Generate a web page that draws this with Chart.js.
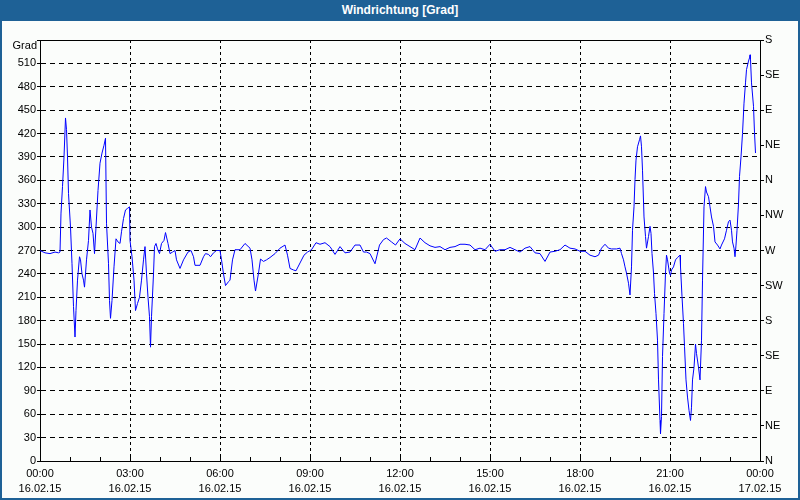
<!DOCTYPE html>
<html>
<head>
<meta charset="utf-8">
<script src="https://cdn.jsdelivr.net/npm/chart.js@4.4.1/dist/chart.umd.min.js"></script>
<style>
  html, body { margin: 0; padding: 0; background: #fbfdfb; }
  #wrap { position: relative; width: 800px; height: 500px; background: #fbfdfb; overflow: hidden; }
  #frame { position: absolute; left: 0; top: 0; width: 796px; height: 498px;
           border: 2px solid #1e6196; border-top: 0; pointer-events: none; }
  #titlebar { position: absolute; left: 0; top: 0; width: 800px; height: 21px; background: #1e6196;
              color: #ffffff; font: bold 12px "Liberation Sans", Arial, sans-serif;
              text-align: center; line-height: 21px; }
  #chart { position: absolute; left: 0; top: 0; }
</style>
</head>
<body>
<div id="wrap">
  <canvas id="chart" width="800" height="500"></canvas>
  <div id="frame"></div>
  <div id="titlebar">Windrichtung [Grad]</div>
</div>
<script>
// Zeitpunkte in Minuten ab 16.02.15 00:00
const minutes = [
  0, 10, 20, 30, 37, 40, 42, 45, 48, 51, 53, 55, 57, 61, 64, 67, 70, 72, 75, 79,
  81, 84, 87, 89, 93, 97, 100, 103, 106, 109, 112, 116, 120, 124, 128, 131, 133, 137, 139, 141,
  144, 148, 152, 156, 160, 163, 167, 171, 175, 179, 180, 184, 188, 191, 195, 199, 203, 207, 210, 213,
  216, 219, 221, 223, 227, 229, 232, 235, 239, 243, 248, 251, 256, 260, 265, 270, 273, 280, 287, 296,
  302, 307, 310, 320, 327, 331, 337, 341, 347, 353, 360, 363, 367, 371, 377, 380, 385, 390, 400, 410,
  420, 424, 428, 431, 437, 441, 447, 453, 460, 470, 480, 490, 495, 500, 507, 512, 520, 528, 535, 543,
  552, 560, 570, 580, 590, 600, 610, 620, 630, 640, 647, 653, 660, 670, 679, 687, 693, 703, 711, 720,
  730, 740, 750, 760, 770, 780, 790, 800, 810, 820, 830, 840, 850, 860, 870, 880, 890, 900, 910, 920,
  930, 940, 950, 960, 970, 980, 990, 1000, 1010, 1020, 1030, 1040, 1050, 1060, 1070, 1080, 1090, 1100, 1110, 1117,
  1123, 1130, 1137, 1143, 1153, 1160, 1163, 1167, 1170, 1173, 1177, 1180, 1183, 1185, 1188, 1190, 1192, 1195, 1199, 1201,
  1203, 1205, 1208, 1211, 1213, 1217, 1220, 1222, 1224, 1227, 1229, 1232, 1235, 1237, 1240, 1241, 1243, 1245, 1248, 1251,
  1253, 1255, 1259, 1261, 1263, 1267, 1271, 1275, 1280, 1281, 1284, 1287, 1289, 1292, 1295, 1298, 1301, 1303, 1305, 1308,
  1311, 1313, 1317, 1320, 1323, 1325, 1328, 1331, 1333, 1337, 1340, 1343, 1347, 1350, 1355, 1360, 1363, 1369, 1373, 1377,
  1380, 1383, 1385, 1388, 1390, 1392, 1394, 1397, 1399, 1402, 1405, 1408, 1411, 1413, 1417, 1419, 1420, 1421, 1423, 1427,
  1429, 1431
];

// Windrichtung in Grad
const windDeg = [
  270, 267, 266, 268, 267, 268, 318, 352, 390, 440, 425, 390, 343, 300, 253, 198, 159, 193, 232, 262,
  258, 240, 232, 223, 258, 283, 322, 300, 292, 266, 300, 347, 382, 395, 405, 414, 305, 253, 206, 183,
  206, 249, 285, 281, 279, 294, 311, 322, 324, 326, 283, 262, 232, 193, 202, 210, 232, 258, 275, 240,
  210, 185, 146, 185, 240, 275, 279, 272, 266, 279, 283, 293, 279, 266, 268, 270, 258, 247, 258, 268,
  270, 262, 251, 251, 262, 266, 265, 262, 267, 270, 270, 258, 240, 225, 230, 232, 258, 271, 271, 279,
  273, 258, 232, 218, 241, 259, 256, 258, 261, 266, 273, 277, 264, 247, 245, 244, 254, 264, 268, 271,
  280, 278, 280, 275, 265, 275, 267, 268, 277, 277, 268, 268, 266, 253, 277, 284, 286, 281, 277, 285,
  279, 275, 271, 286, 280, 276, 274, 275, 271, 274, 275, 278, 278, 277, 271, 273, 271, 278, 269, 271,
  271, 274, 271, 268, 273, 275, 267, 266, 256, 268, 269, 271, 277, 273, 272, 269, 269, 264, 262, 264,
  273, 278, 273, 272, 272, 273, 266, 258, 249, 241, 228, 213, 249, 296, 326, 361, 386, 403, 412, 417,
  403, 373, 313, 288, 273, 288, 301, 292, 266, 241, 215, 189, 155, 104, 52, 35, 57, 134, 189, 241,
  264, 258, 241, 238, 245, 249, 258, 261, 264, 249, 211, 176, 147, 104, 82, 65, 52, 69, 104, 120,
  150, 138, 120, 104, 155, 232, 326, 352, 345, 339, 326, 313, 301, 281, 277, 272, 277, 285, 296, 307,
  309, 296, 281, 273, 262, 277, 296, 330, 365, 390, 420, 459, 485, 502, 513, 517, 521, 515, 485, 455,
  421, 395
];

// Achsenbeschriftungen
const timeLabels = ["00:00", "03:00", "06:00", "09:00", "12:00", "15:00", "18:00", "21:00", "00:00"];
const dateLabels = ["16.02.15", "16.02.15", "16.02.15", "16.02.15", "16.02.15", "16.02.15", "16.02.15", "16.02.15", "17.02.15"];
const compass = ["N", "NE", "E", "SE", "S", "SW", "W", "NW"];

const FONT = { family: "'Liberation Sans', Arial, sans-serif", size: 11 };

// Rahmen oben + Stundenstriche nach innen + "Grad"
const extras = {
  id: "extras",
  afterDraw(chart) {
    const ctx = chart.ctx;
    const a = chart.chartArea;
    const xs = chart.scales.x;
    ctx.save();
    ctx.strokeStyle = "#000";
    ctx.lineWidth = 1;
    ctx.beginPath();
    ctx.moveTo(Math.round(a.left) + 0.5, Math.round(a.top) + 0.5);
    ctx.lineTo(Math.round(a.right) + 0.5, Math.round(a.top) + 0.5);
    for (let h = 1; h < 24; h++) {
      const px = Math.round(xs.getPixelForValue(h * 60)) + 0.5;
      ctx.moveTo(px, Math.round(a.bottom));
      ctx.lineTo(px, Math.round(a.bottom) - 4);
    }
    ctx.stroke();
    ctx.fillStyle = "#000";
    ctx.font = "11px " + FONT.family;
    ctx.textAlign = "right";
    ctx.textBaseline = "middle";
    ctx.fillText("Grad", 37, 46);
    ctx.restore();
  }
};

Chart.defaults.font = FONT;
Chart.defaults.color = "#000";

new Chart(document.getElementById("chart").getContext("2d"), {
  type: "line",
  data: {
    datasets: [{
      data: minutes.map((m, i) => ({ x: m, y: windDeg[i] })),
      borderColor: "#0000ff",
      borderWidth: 1,
      pointRadius: 0,
      tension: 0,
      fill: false
    }]
  },
  options: {
    responsive: false,
    animation: false,
    layout: { padding: { top: 40, left: 0, right: 0, bottom: 0 } },
    plugins: { legend: { display: false }, tooltip: { enabled: false } },
    scales: {
      x: {
        type: "linear",
        min: 0,
        max: 1440,
        afterFit: (s) => { s.height = 39; },
        ticks: {
          stepSize: 180,
          padding: 6,
          maxRotation: 0,
          autoSkip: false,
          font: { size: 11, lineHeight: 1.35 },
          callback: (v) => [timeLabels[v / 180], dateLabels[v / 180]]
        },
        grid: {
          color: (c) => (c.tick && (c.tick.value === 0 || c.tick.value === 1440)) ? "rgba(0,0,0,0)" : "#000",
          drawTicks: false
        },
        border: { color: "#000", width: 1, dash: [3, 3] }
      },
      y: {
        position: "left",
        min: 0,
        max: 540,
        afterFit: (s) => { s.width = 40; },
        ticks: {
          stepSize: 30,
          padding: 1,
          callback: (v) => (v === 540 ? "" : v)
        },
        grid: {
          color: (c) => (c.tick && (c.tick.value === 0 || c.tick.value === 540)) ? "rgba(0,0,0,0)" : "#000",
          tickLength: 3,
          tickColor: "#000",
          tickBorderDash: []
        },
        border: { color: "#000", width: 1, dash: [5, 4] }
      },
      y2: {
        position: "right",
        min: 0,
        max: 540,
        afterFit: (s) => { s.width = 40; },
        ticks: {
          stepSize: 45,
          padding: 1,
          callback: (v) => compass[(v / 45) % 8]
        },
        grid: {
          drawOnChartArea: false,
          tickLength: 4,
          tickColor: "#000"
        },
        border: { color: "#000", width: 1 }
      }
    }
  },
  plugins: [extras]
});
</script>
</body>
</html>
